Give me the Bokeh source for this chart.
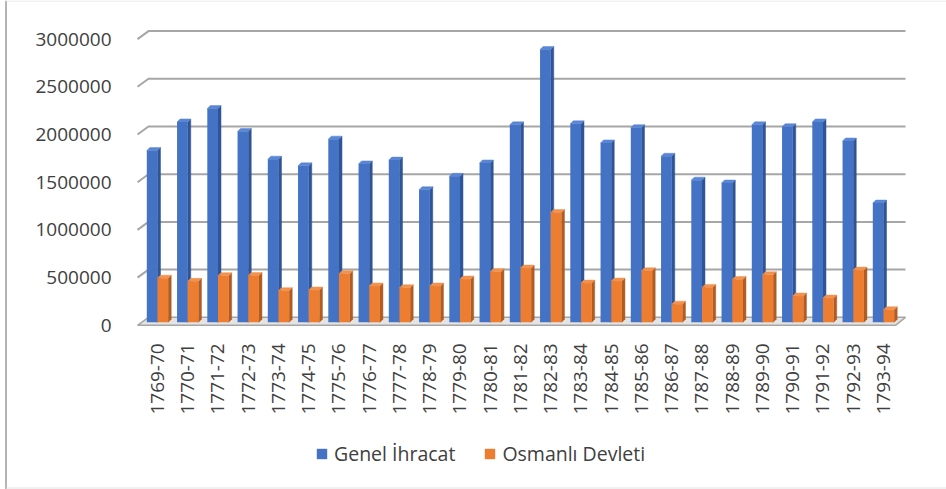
import math
from bokeh.plotting import figure
from bokeh.models import (Range1d, FixedTicker, BasicTickFormatter, Legend,
                          LegendItem, ColumnDataSource)
from bokeh.embed import file_html
from bokeh.resources import INLINE

# ---------------- data ----------------
categories = ["1769-70", "1770-71", "1771-72", "1772-73", "1773-74", "1774-75",
              "1775-76", "1776-77", "1777-78", "1778-79", "1779-80", "1780-81",
              "1781-82", "1782-83", "1783-84", "1784-85", "1785-86", "1786-87",
              "1787-88", "1788-89", "1789-90", "1790-91", "1791-92", "1792-93",
              "1793-94"]
genel_ihracat = [1800000, 2100000, 2240000, 2000000, 1710000, 1640000, 1920000,
                 1660000, 1700000, 1390000, 1530000, 1670000, 2070000, 2860000,
                 2080000, 1880000, 2040000, 1740000, 1490000, 1460000, 2070000,
                 2050000, 2100000, 1900000, 1250000]
osmanli_devleti = [463000, 429000, 488000, 491000, 331000, 338000, 509000,
                   380000, 362000, 380000, 453000, 530000, 568000, 1150000,
                   411000, 432000, 540000, 190000, 366000, 449000, 498000,
                   275000, 254000, 547000, 132000]
y_ticks = [0, 500000, 1000000, 1500000, 2000000, 2500000, 3000000]
series_names = ["Genel İhracat", "Osmanlı Devleti"]

# ---------------- geometry (pixels -> data units) ----------------
W, H = 946, 489
ZERO_Y = 324.8                               # px of value 0 (front edge)
PLOT_L = 137                                 # px of plot-area left edge
PXX = 30.25                                  # px per category
PXY = 95.4e-6                                # px per value unit
CAT0 = 157                                   # px of first category centre
x_start = (0 - CAT0) / PXX
x_end = x_start + W / PXX
y_start = -(H - ZERO_Y) / PXY
y_end = y_start + H / PXY

def dxp(px):
    return px / PXX

def dyp(px):
    return px / PXY

def xpx(px):
    return x_start + dxp(px)

def ypx(px):
    return y_start + dyp(H - px)

BAR_W = dxp(10.7)
DEP_X, DEP_Y = dxp(3), dyp(3)
BASE = dyp(3)
BACK_X, BACK_Y = dxp(11), dyp(8)
FONT = "Open Sans"
TXT = "#404040"

p = figure(width=W, height=H, output_backend="svg", toolbar_location=None,
           x_range=Range1d(x_start, x_end), y_range=Range1d(y_start, y_end),
           min_border_left=0, min_border_right=0,
           min_border_top=0, min_border_bottom=0)
p.xgrid.visible = False
p.ygrid.visible = False
p.outline_line_color = None
p.background_fill_color = "white"
p.border_fill_color = "white"

# chart-area border
p.line([xpx(5.5), xpx(5.5)], [ypx(0), ypx(489)], line_color="#B4B4B4", line_width=2)
p.line([xpx(5.5), xpx(946)], [ypx(0.5), ypx(0.5)], line_color="#E2E2E2", line_width=1)
p.line([xpx(5.5), xpx(946)], [ypx(487.5), ypx(487.5)], line_color="#E2E2E2", line_width=1)

# back-wall gridlines with perspective slant on the left
x_left = xpx(PLOT_L)
gx_right = xpx(905)
grid_xs = [[x_left, x_left + BACK_X, gx_right] for v in y_ticks[1:]]
grid_ys = [[v, v + BACK_Y, v + BACK_Y] for v in y_ticks[1:]]
p.multi_line(grid_xs, grid_ys, line_color="#A6A6A6", line_width=2)

# floor slab
fx_r = xpx(895)
p.patch([x_left, fx_r, fx_r + dxp(10), x_left + BACK_X],
        [0, 0, BACK_Y, BACK_Y],
        fill_color="#E4E4E4", line_color="#A6A6A6", line_width=1.5)

def draw_series(vals, offset, front, side, top):
    x0s = [i + offset for i in range(len(vals))]
    x1s = [x + BAR_W for x in x0s]
    side_xs = [[x1, x1 + DEP_X, x1 + DEP_X, x1] for x1 in x1s]
    side_ys = [[BASE, BASE + DEP_Y, BASE + v + DEP_Y, BASE + v] for v in vals]
    p.patches(side_xs, side_ys, fill_color=side, line_color=side, line_width=0.5)
    top_xs = [[x0, x1, x1 + DEP_X, x0 + DEP_X] for x0, x1 in zip(x0s, x1s)]
    top_ys = [[BASE + v, BASE + v, BASE + v + DEP_Y, BASE + v + DEP_Y] for v in vals]
    p.patches(top_xs, top_ys, fill_color=top, line_color=top, line_width=0.5)
    src = ColumnDataSource(dict(left=x0s, right=x1s,
                                bottom=[BASE] * len(vals),
                                top=[BASE + v for v in vals]))
    return p.quad(left="left", right="right", bottom="bottom", top="top",
                  source=src, fill_color=front, line_color=None)

rb = draw_series(genel_ihracat, -BAR_W, "#4472C4", "#2F5597", "#5A86D5")
ro = draw_series(osmanli_devleti, 0.0, "#ED7D31", "#B05C22", "#F2924F")

# axes
p.yaxis.fixed_location = x_left
p.yaxis.ticker = FixedTicker(ticks=y_ticks)
p.yaxis.formatter = BasicTickFormatter(use_scientific=False)
p.yaxis.axis_line_color = None
p.yaxis.major_tick_line_color = None
p.yaxis.minor_tick_line_color = None
p.yaxis.major_label_standoff = 20
p.yaxis.major_label_text_font = FONT
p.yaxis.major_label_text_font_size = "19px"
p.yaxis.major_label_text_color = TXT

p.xaxis.fixed_location = 0
p.xaxis.ticker = FixedTicker(ticks=list(range(len(categories))))
p.xaxis.major_label_overrides = {i: c for i, c in enumerate(categories)}
p.xaxis.major_label_orientation = math.pi / 2
p.xaxis.axis_line_color = None
p.xaxis.major_tick_line_color = None
p.xaxis.minor_tick_line_color = None
p.xaxis.major_label_standoff = 12
p.xaxis.major_label_text_font = FONT
p.xaxis.major_label_text_font_size = "19px"
p.xaxis.major_label_text_color = TXT

legend = Legend(items=[LegendItem(label=series_names[0], renderers=[rb]),
                       LegendItem(label=series_names[1], renderers=[ro])],
                orientation="horizontal", location=(315, 22),
                glyph_width=13, glyph_height=13, label_standoff=6, spacing=28,
                padding=0, margin=0, border_line_color=None,
                background_fill_alpha=0, label_text_font=FONT,
                label_text_font_size="19.5px", label_text_color=TXT)
p.add_layout(legend)

open("out.html", "w").write(file_html(p, INLINE))
